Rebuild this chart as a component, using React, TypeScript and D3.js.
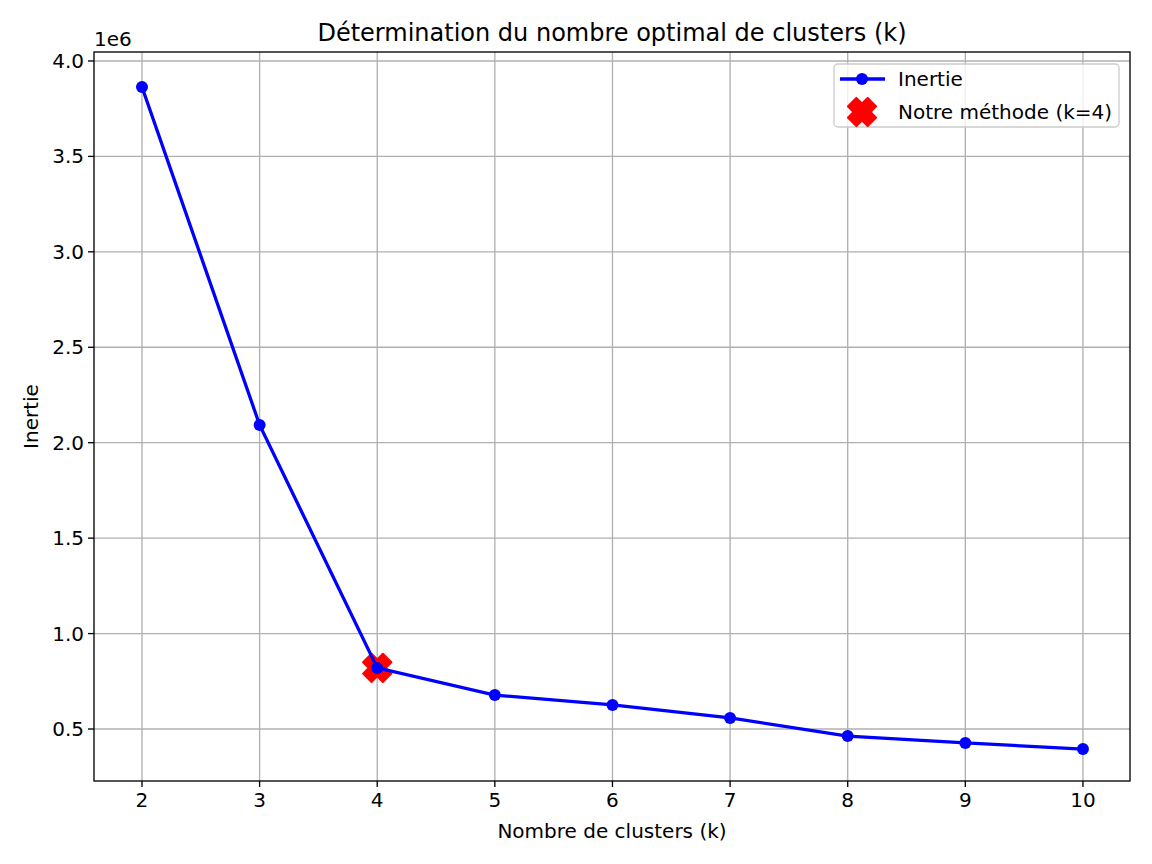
import React from 'react';
import * as d3 from 'd3';

const ks = [2, 3, 4, 5, 6, 7, 8, 9, 10];
const inertia = [3.864e6, 2.093e6, 0.82e6, 0.678e6, 0.626e6, 0.558e6, 0.463e6, 0.427e6, 0.395e6];
const chosenK = 4;
const chosenInertia = 0.82e6;
const xTicks = [2, 3, 4, 5, 6, 7, 8, 9, 10];
const yTicks = [0.5e6, 1.0e6, 1.5e6, 2.0e6, 2.5e6, 3.0e6, 3.5e6, 4.0e6];

const W = 1152, H = 864;
const m = { left: 94, right: 1130, top: 52, bottom: 781 };
const font = 'DejaVu Sans, sans-serif';
const fs = 20;

// filled X marker, like matplotlib 'X'
const xMarker = (L: number, a: number) => {
  const pts = [[a, L], [a, a], [L, a], [L, -a], [a, -a], [a, -L], [-a, -L], [-a, -a], [-L, -a], [-L, a], [-a, a], [-a, L]];
  const c = Math.SQRT1_2;
  return 'M' + pts.map(([x, y]) => `${(x - y) * c},${(x + y) * c}`).join('L') + 'Z';
};

const App: React.FC = () => {
  const x = d3.scaleLinear().domain([1.592, 10.40]).range([m.left, m.right]);
  const y = d3.scaleLinear().domain([0.2276e6, 4.047e6]).range([m.bottom, m.top]);
  const line = d3.line<number>().x((_, i) => x(ks[i])).y(d => y(d));
  const xPath = xMarker(14, 6);

  return (
    <div style={{ position: 'absolute', left: 0, top: 0 }}>
      <svg width={W} height={H} style={{ display: 'block', background: '#fff' }} fontFamily={font}>
        {xTicks.map(t => (
          <g key={'x' + t}>
            <line x1={x(t)} x2={x(t)} y1={m.top} y2={m.bottom} stroke="#b0b0b0" strokeWidth={1.33} />
            <line x1={x(t)} x2={x(t)} y1={m.bottom} y2={m.bottom + 6} stroke="#000" strokeWidth={1.33} />
            <text x={x(t)} y={m.bottom + 26} textAnchor="middle" fontSize={fs}>{t}</text>
          </g>
        ))}
        {yTicks.map(t => (
          <g key={'y' + t}>
            <line x1={m.left} x2={m.right} y1={y(t)} y2={y(t)} stroke="#b0b0b0" strokeWidth={1.33} />
            <line x1={m.left - 6} x2={m.left} y1={y(t)} y2={y(t)} stroke="#000" strokeWidth={1.33} />
            <text x={m.left - 10} y={y(t)} dy="0.35em" textAnchor="end" fontSize={fs}>{(t / 1e6).toFixed(1)}</text>
          </g>
        ))}
        <text x={m.left} y={m.top - 6} fontSize={fs}>1e6</text>
        <path d={xPath} transform={`translate(${x(chosenK)},${y(chosenInertia)})`} fill="#ff0000" stroke="#ff0000" strokeWidth={2} strokeLinejoin="round" />
        <path d={line(inertia) || ''} fill="none" stroke="#0000ff" strokeWidth={3.3} />
        {inertia.map((v, i) => (
          <circle key={i} cx={x(ks[i])} cy={y(v)} r={6} fill="#0000ff" />
        ))}
        <rect x={m.left} y={m.top} width={m.right - m.left} height={m.bottom - m.top} fill="none" stroke="#000" strokeWidth={1.33} />
        <text x={(m.left + m.right) / 2} y={41} textAnchor="middle" fontSize={24}>Détermination du nombre optimal de clusters (k)</text>
        <text x={(m.left + m.right) / 2} y={838} textAnchor="middle" fontSize={fs}>Nombre de clusters (k)</text>
        <text transform={`translate(38,${(m.top + m.bottom) / 2}) rotate(-90)`} textAnchor="middle" fontSize={fs}>Inertie</text>
        <g>
          <rect x={834} y={64} width={285} height={63} rx={4} fill="#fff" fillOpacity={0.8} stroke="#cccccc" strokeWidth={1.33} />
          <line x1={840} x2={885} y1={79} y2={79} stroke="#0000ff" strokeWidth={3.3} />
          <circle cx={862} cy={79} r={6} fill="#0000ff" />
          <text x={898} y={79} dy="0.35em" fontSize={fs}>Inertie</text>
          <path d={xPath} transform="translate(862,112)" fill="#ff0000" stroke="#ff0000" strokeWidth={2} strokeLinejoin="round" />
          <text x={898} y={112} dy="0.35em" fontSize={fs}>Notre méthode (k=4)</text>
        </g>
      </svg>
    </div>
  );
};

export default App;
